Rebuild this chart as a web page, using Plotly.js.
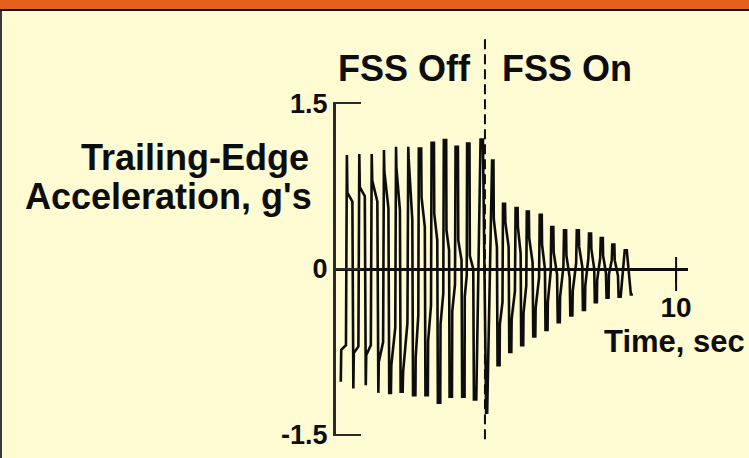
<!DOCTYPE html>
<html>
<head>
<meta charset="utf-8">
<script src="https://cdn.plot.ly/plotly-3.0.1.min.js"></script>
<style>
  html, body { margin: 0; padding: 0; }
  #frame {
    position: absolute; left: 0; top: 0; width: 749px; height: 458px;
    background: linear-gradient(to bottom, #E2621C 0, #E2621C 9px, #161616 9px, #161616 11px, #FFFBD3 11px);
  }
  #frame:before {
    content: ""; position: absolute; left: 0; top: 11px; bottom: 0; width: 2px; background: #3a3a3a;
  }
  #chart { position: absolute; left: 0; top: 0; width: 749px; height: 458px; }
</style>
</head>
<body>
<div id="frame"></div>
<div id="chart"></div>
<script>
// Trailing-edge acceleration record, flutter suppression system (FSS) off then on.
// Time of each positive peak (s) and its acceleration (g).
const peakTime  = [0.32, 0.685, 1.05, 1.41, 1.765, 2.125, 2.47, 2.845, 3.205, 3.55, 3.89, 4.285,
                   4.61, 4.94, 5.31, 5.64, 6.02, 6.36, 6.735, 7.11, 7.47, 7.815, 8.155, 8.52];
const peakAccel = [1.03, 1.04, 1.04, 1.075, 1.105, 1.105, 1.09, 1.14, 1.165, 1.105, 1.135, 1.17,
                   0.98, 0.59, 0.55, 0.52, 0.49, 0.38, 0.35, 0.35, 0.32, 0.28, 0.22, 0.17];
// How long each positive peak stays near its top (s).
const peakFlat  = [0, 0, 0, 0, 0, 0, 0.07, 0.07, 0.07, 0.07, 0.07, 0.07,
                   0.04, 0.06, 0.06, 0.06, 0.06, 0.06, 0.06, 0.06, 0.06, 0.06, 0.06, 0.06];
// Negative peak before each positive peak, plus the last one at the end of the record.
const troughTime  = [0.14, 0.51, 0.875, 1.245, 1.59, 1.93, 2.30, 2.665, 3.03, 3.375, 3.745, 4.09,
                     4.43, 4.78, 5.125, 5.475, 5.83, 6.19, 6.55, 6.92, 7.29, 7.64, 7.985, 8.34, 8.70];
const troughAccel = [-1.02, -1.08, -1.05, -1.12, -1.12, -1.11, -1.14, -1.14, -1.21, -1.155, -1.155, -1.18,
                     -1.30, -0.87, -0.75, -0.69, -0.61, -0.55, -0.48, -0.42, -0.37, -0.30, -0.26, -0.25, -0.23];
const troughFlat  = [0, 0, 0, 0, 0.05, 0.06, 0.07, 0.07, 0.07, 0.07, 0.07, 0.07,
                     0.03, 0.06, 0.06, 0.06, 0.06, 0.06, 0.06, 0.06, 0.06, 0.06, 0.06, 0.06, 0.06];
// Shoulder on the rising stroke into each positive peak (start and end level, g).
const riseKneeLow  = [-0.73, -0.76, -0.78, -0.84, -0.87, -0.93, -0.80, -0.65, -0.50, -0.38, -0.25, null,
                      null, -0.50, -0.45, -0.40, -0.35, -0.30, -0.25, -0.20, -0.15, -0.10, -0.05, null];
const riseKneeHigh = [-0.69, -0.70, -0.69, -0.66, -0.53, -0.49, -0.42, -0.33, -0.22, -0.14, -0.06, null,
                      null, -0.30, -0.20, -0.15, -0.08, -0.02, 0.02, 0.05, 0.10, 0.10, 0.08, null];
// Shoulder on the falling stroke after each positive peak (start and end level, g).
const fallKneeHigh = [0.69, 0.74, 0.80, 0.88, 0.92, 1.00, 0.65, 0.50, 0.35, 0.26, 0.12, null,
                      0.45, 0.42, 0.38, 0.28, 0.22, 0.15, 0.12, 0.20, 0.18, 0.12, 0.08, null];
const fallKneeLow  = [0.61, 0.66, 0.61, 0.55, 0.53, 0.44, 0.38, 0.26, 0.17, 0.08, 0.00, null,
                      0.20, 0.20, 0.14, 0.06, 0.00, -0.05, -0.08, 0.02, 0.00, -0.04, -0.06, null];
// FSS switched on at this time (s).
const fssOnTime = 4.38;
// Axis ticks.
const yTicks = [-1.5, 0, 1.5];
const yTickText = ['-1.5', '0', '1.5'];
const xTicks = [10];
const xTickText = ['10'];

// Assemble the trace: trough -> (rise shoulder) -> peak -> (fall shoulder) -> next trough.
// Away from a shoulder the strokes are nearly vertical; the shoulder carries the sideways step.
const kneeStart = 0.08, kneeEnd = 0.85;
const tx = [], gy = [];
function extreme(t, g, flat) {
  if (flat > 0) { tx.push(t - flat / 2, t + flat / 2); gy.push(g, g); }
  else { tx.push(t); gy.push(g); }
}
function stroke(tA, tB, low, high) {
  if (low === null) return;
  const d = tB - tA;
  tx.push(tA + kneeStart * d, tA + kneeEnd * d);
  gy.push(low, high);
}
for (let i = 0; i < peakTime.length; i++) {
  extreme(troughTime[i], troughAccel[i], troughFlat[i]);
  stroke(troughTime[i] + troughFlat[i] / 2, peakTime[i] - peakFlat[i] / 2, riseKneeLow[i], riseKneeHigh[i]);
  extreme(peakTime[i], peakAccel[i], peakFlat[i]);
  stroke(peakTime[i] + peakFlat[i] / 2, troughTime[i + 1] - troughFlat[i + 1] / 2, fallKneeHigh[i], fallKneeLow[i]);
}
const last = troughTime.length - 1;
extreme(troughTime[last], troughAccel[last], troughFlat[last]);

const ink = '#0d0d0d';
const axisInk = '#2a2a2a';
const bold = s => '<b>' + s + '</b>';

const plotH = 334;            // plot-area height in px (margins below)
const tickUp = 12, tickDown = 22;

const traces = [
  {
    type: 'scatter', mode: 'lines', x: tx, y: gy,
    line: { color: ink, width: 2.6 }, hoverinfo: 'skip'
  }
];

// The time tick crosses the axis line, so its upper half is added as a shape.
const tickShapes = xTicks.map(v => ({
  type: 'line', xref: 'x', yref: 'paper', x0: v, x1: v,
  y0: 0.5 - tickDown / plotH, y1: 0.5 + tickUp / plotH,
  line: { color: ink, width: 2 }
}));

const layout = {
  width: 749, height: 458,
  margin: { l: 336, r: 61, t: 102, b: 22, pad: 0 },
  paper_bgcolor: 'rgba(0,0,0,0)', plot_bgcolor: 'rgba(0,0,0,0)',
  showlegend: false,
  font: { family: 'Liberation Sans, Arial, Helvetica, sans-serif', color: ink },
  xaxis: {
    range: [0, 10.35], anchor: 'free', position: 0.5,
    showline: true, linecolor: ink, linewidth: 3,
    showgrid: false, zeroline: false,
    ticks: 'outside', ticklen: 12, tickwidth: 2, tickcolor: ink,
    tickvals: xTicks, ticktext: xTickText.map(bold), tickfont: { size: 28 }
  },
  yaxis: {
    range: [-1.51, 1.51],
    showline: true, linecolor: axisInk, linewidth: 3,
    showgrid: false, zeroline: false,
    ticks: 'inside', ticklen: 25, tickwidth: 2.5, tickcolor: axisInk,
    tickvals: yTicks, ticktext: yTickText.map(bold), tickfont: { size: 27 }
  },
  shapes: [
    {
      type: 'line', xref: 'x', yref: 'paper', x0: fssOnTime, x1: fssOnTime, y0: -0.01, y1: 1.2,
      line: { color: ink, width: 2, dash: '10px,5px' }
    }
  ].concat(tickShapes),
  annotations: [
    { text: bold('FSS Off'), xref: 'x', x: fssOnTime, xanchor: 'right', xshift: -12,
      yref: 'paper', y: 1.1, yanchor: 'middle', showarrow: false, font: { size: 36 } },
    { text: bold('FSS On'), xref: 'x', x: fssOnTime, xanchor: 'left', xshift: 15,
      yref: 'paper', y: 1.1, yanchor: 'middle', showarrow: false, font: { size: 36 } },
    { text: bold('Trailing-Edge'), xref: 'paper', x: -0.071, xanchor: 'right',
      yref: 'paper', y: 0.834, yanchor: 'middle', showarrow: false, font: { size: 36 } },
    { text: bold("Acceleration, g's"), xref: 'paper', x: -0.063, xanchor: 'right',
      yref: 'paper', y: 0.716, yanchor: 'middle', showarrow: false, font: { size: 36 } },
    { text: bold('Time, sec'), xref: 'x', x: 10, xshift: -2, xanchor: 'center',
      yref: 'paper', y: 0.283, yanchor: 'middle', showarrow: false, font: { size: 31 } }
  ]
};

Plotly.newPlot('chart', traces, layout, { staticPlot: true, displayModeBar: false });
</script>
</body>
</html>
